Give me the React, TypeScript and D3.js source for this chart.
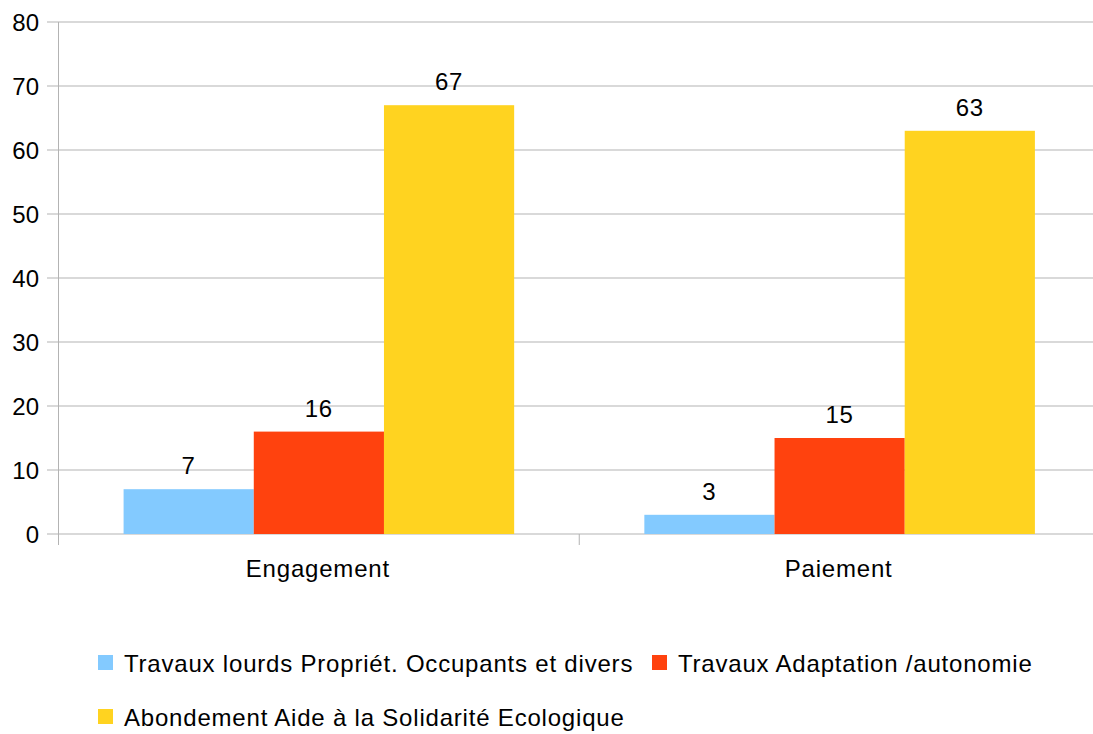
import React from "react";
import * as d3 from "d3";

const categories = ["Engagement", "Paiement"];
const seriesNames = [
  "Travaux lourds Propriét. Occupants et divers",
  "Travaux Adaptation /autonomie",
  "Abondement Aide à la Solidarité Ecologique",
];
const travauxLourds = [7, 3];
const travauxAdaptation = [16, 15];
const abondement = [67, 63];
const yTicks = [0, 10, 20, 30, 40, 50, 60, 70, 80];
const colors = ["#83CAFF", "#FF420E", "#FFD320"];

export default function App() {
  const W = 1093, H = 734;
  const left = 58.5, right = 1100, top = 22, bottom = 534;
  const font = "'Liberation Sans', Arial, sans-serif";
  const series = [travauxLourds, travauxAdaptation, abondement];
  const ls = 0.8;

  const y = d3.scaleLinear().domain([0, 80]).range([bottom, top]);
  const x0 = d3.scaleBand().domain(categories).range([left, right]).paddingInner(0).paddingOuter(0);
  const groupW = x0.bandwidth() * 0.75;
  const x1 = d3.scaleBand().domain(seriesNames).range([0, groupW]);

  return (
    <svg width={W} height={H} style={{ position: "absolute", left: 0, top: 0 }} fontFamily={font}>
      <rect width={W} height={H} fill="#fff" />
      {yTicks.map((t) => (
        <g key={t}>
          <line x1={47} x2={W} y1={y(t)} y2={y(t)} stroke="#b3b3b3" strokeWidth={1} />
          <text x={39} y={y(t) + 8.5} textAnchor="end" fontSize={24} fill="#000">
            {t}
          </text>
        </g>
      ))}
      <line x1={left} x2={left} y1={top} y2={545} stroke="#b3b3b3" strokeWidth={1} />
      {categories.slice(1).map((c) => (
        <line key={c} x1={x0(c)!} x2={x0(c)!} y1={bottom} y2={545} stroke="#b3b3b3" strokeWidth={1} />
      ))}
      {categories.map((c, ci) => {
        const gx = x0(c)! + (x0.bandwidth() - groupW) / 2;
        return (
          <g key={c}>
            {series.map((s, si) => {
              const bx = gx + x1(seriesNames[si])!;
              return (
                <g key={si}>
                  <rect x={bx} y={y(s[ci])} width={x1.bandwidth()} height={bottom - y(s[ci])} fill={colors[si]} />
                  <text x={bx + x1.bandwidth() / 2} y={y(s[ci]) - 15} textAnchor="middle" fontSize={24} fill="#000" letterSpacing={ls}>
                    {s[ci]}
                  </text>
                </g>
              );
            })}
            <text x={x0(c)! + x0.bandwidth() / 2 - 1} y={577} textAnchor="middle" fontSize={24} fill="#000" letterSpacing={ls}>
              {c}
            </text>
          </g>
        );
      })}
      {[
        { i: 0, x: 98, y: 663 },
        { i: 1, x: 652, y: 663 },
        { i: 2, x: 98, y: 717 },
      ].map(({ i, x, y: ly }) => (
        <g key={i}>
          <rect x={x} y={ly - 8} width={15} height={15} fill={colors[i]} />
          <text x={x + 26} y={ly + 8.5} fontSize={24} fill="#000" letterSpacing={ls}>
            {seriesNames[i]}
          </text>
        </g>
      ))}
    </svg>
  );
}
